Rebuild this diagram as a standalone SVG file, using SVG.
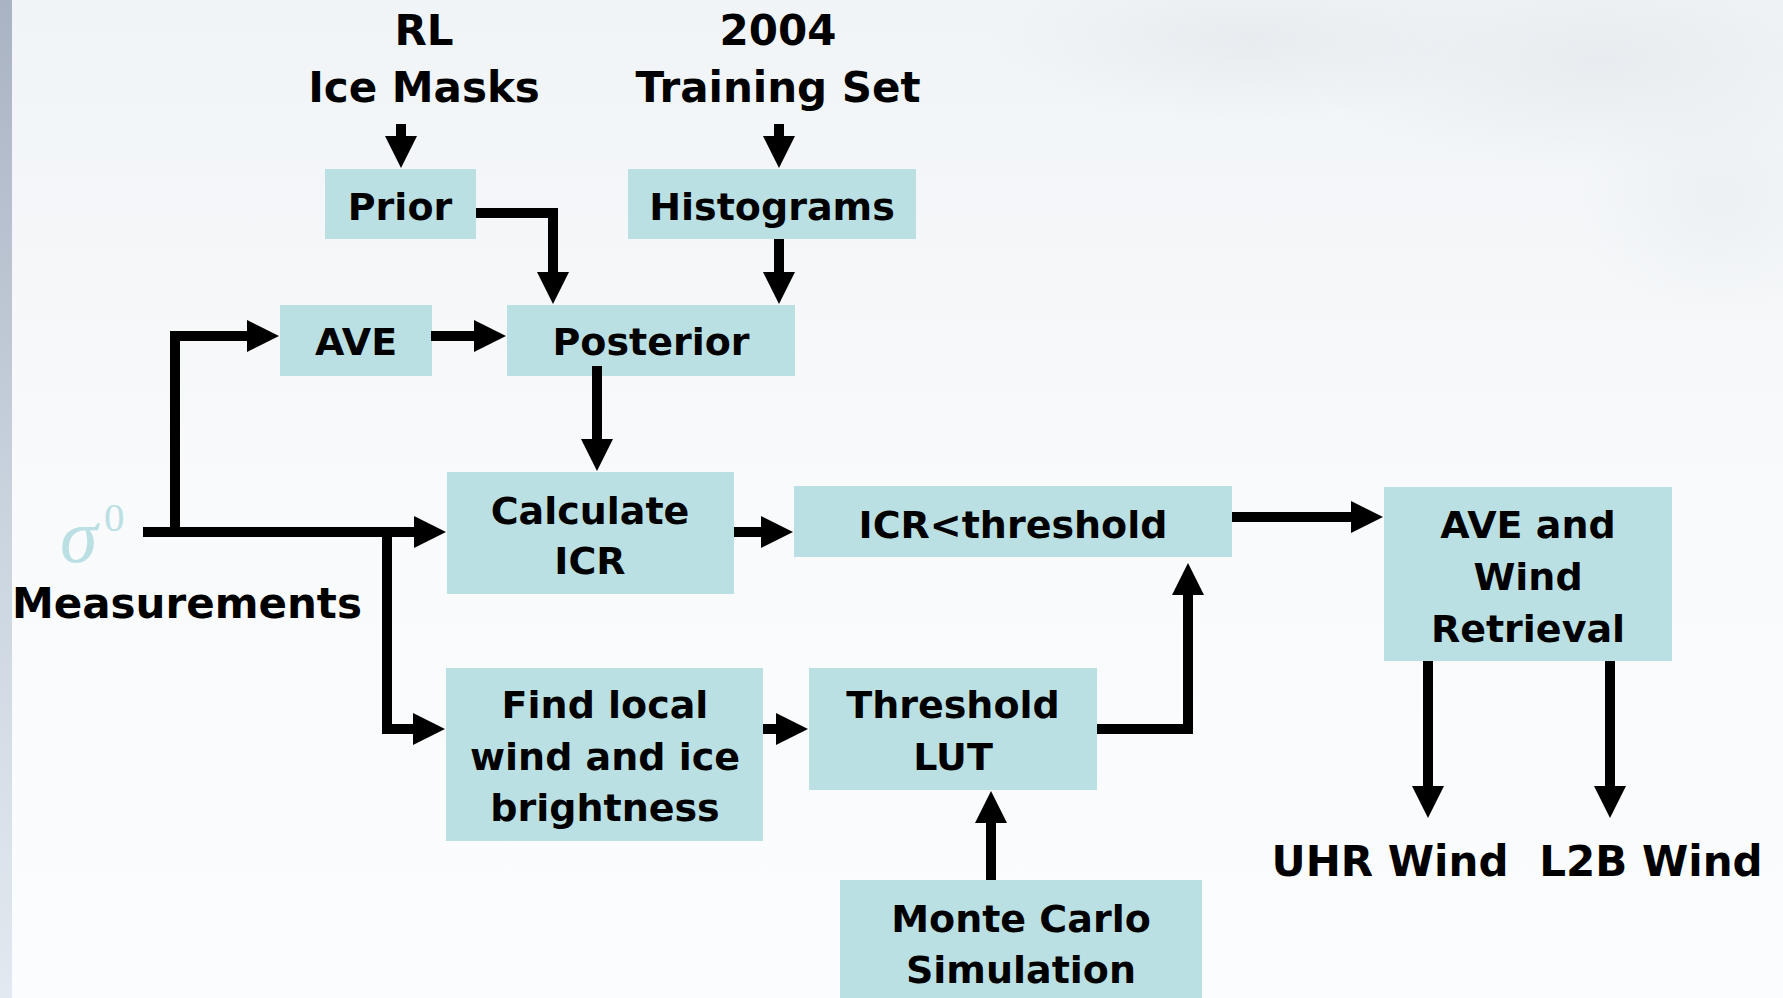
<svg xmlns="http://www.w3.org/2000/svg" width="1783" height="998" viewBox="0 0 1783 998">
<defs>
<linearGradient id="bg" x1="0" y1="0" x2="0" y2="1">
<stop offset="0" stop-color="#f1f4f7"/>
<stop offset="0.5" stop-color="#f8fafb"/>
<stop offset="1" stop-color="#fbfcfd"/>
</linearGradient>
<linearGradient id="strip" x1="0" y1="0" x2="0" y2="1">
<stop offset="0" stop-color="#a9b3c3"/>
<stop offset="0.5" stop-color="#c9d3de"/>
<stop offset="1" stop-color="#e2e9f0"/>
</linearGradient>
<radialGradient id="cloud" cx="0.5" cy="0.5" r="0.5">
<stop offset="0" stop-color="#e6ebef" stop-opacity="0.9"/>
<stop offset="1" stop-color="#e6ebef" stop-opacity="0"/>
</radialGradient>
<marker id="ah" markerUnits="userSpaceOnUse" markerWidth="33" markerHeight="32" refX="1" refY="16" orient="auto">
<path d="M0,0 L32,16 L0,32 Z" fill="#000"/>
</marker>
</defs>
<style>
.box{fill:#bbe0e4}
.t{font-family:"DejaVu Sans","Liberation Sans",sans-serif;font-weight:bold;fill:#000;text-anchor:middle}
.nt{font-size:38px}
.lt{font-size:42px}
.c{fill:none;stroke:#000;stroke-width:10;stroke-linejoin:miter;stroke-linecap:butt;marker-end:url(#ah)}
</style>
<rect x="0" y="0" width="1783" height="998" fill="url(#bg)"/>
<ellipse cx="1600" cy="60" rx="300" ry="110" fill="url(#cloud)"/>
<ellipse cx="1250" cy="40" rx="260" ry="80" fill="url(#cloud)"/>
<ellipse cx="1720" cy="200" rx="140" ry="120" fill="url(#cloud)" opacity="0.6"/>
<rect x="0" y="0" width="12" height="998" fill="url(#strip)"/>

<g id="labels">
<text class="t lt" x="424" y="45">RL</text>
<text class="t lt" x="424" y="102">Ice Masks</text>
<text class="t lt" x="778" y="45">2004</text>
<text class="t lt" x="778" y="102">Training Set</text>
<text class="t lt" x="12" y="618" style="text-anchor:start">Measurements</text>
<text class="t lt" x="1390" y="876">UHR Wind</text>
<text class="t lt" x="1651" y="876">L2B Wind</text>
<text x="60" y="562" font-family="Liberation Serif, serif" font-style="italic" font-size="76" fill="#bbe0e4">σ</text>
<text x="104" y="531" font-family="Liberation Serif, serif" font-size="41" fill="#bbe0e4">0</text>
</g>

<g id="prior"><rect class="box" x="325" y="169" width="151" height="70"/><text class="t nt" x="400" y="220">Prior</text></g>
<g id="histograms"><rect class="box" x="628" y="169" width="288" height="70"/><text class="t nt" x="772" y="220">Histograms</text></g>
<g id="ave"><rect class="box" x="280" y="305" width="152" height="71"/><text class="t nt" x="356" y="355">AVE</text></g>
<g id="posterior"><rect class="box" x="507" y="305" width="288" height="71"/><text class="t nt" x="651" y="355">Posterior</text></g>
<g id="calcicr"><rect class="box" x="447" y="472" width="287" height="122"/><text class="t nt" x="590" y="524">Calculate</text><text class="t nt" x="590" y="574">ICR</text></g>
<g id="icrthr"><rect class="box" x="794" y="486" width="438" height="71"/><text class="t nt" x="1013" y="538">ICR&lt;threshold</text></g>
<g id="avewind"><rect class="box" x="1384" y="487" width="288" height="174"/><text class="t nt" x="1528" y="538">AVE and</text><text class="t nt" x="1528" y="590">Wind</text><text class="t nt" x="1528" y="642">Retrieval</text></g>
<g id="findlocal"><rect class="box" x="446" y="668" width="317" height="173"/><text class="t nt" x="605" y="718">Find local</text><text class="t nt" x="605" y="770">wind and ice</text><text class="t nt" x="605" y="821">brightness</text></g>
<g id="thrlut"><rect class="box" x="809" y="668" width="288" height="122"/><text class="t nt" x="953" y="718">Threshold</text><text class="t nt" x="953" y="770">LUT</text></g>
<g id="montecarlo"><rect class="box" x="840" y="880" width="362" height="118"/><text class="t nt" x="1021" y="932">Monte Carlo</text><text class="t nt" x="1021" y="983">Simulation</text></g>

<g id="connectors">
<path class="c" d="M401,124 V137"/>
<path class="c" d="M779,124 V137"/>
<path class="c" d="M476,213 H553 V273"/>
<path class="c" d="M779,239 V273"/>
<path class="c" d="M143,532 H415"/>
<path class="c" d="M175,537 V336 H248"/>
<path class="c" d="M431,336 H475"/>
<path class="c" d="M597,366 V440"/>
<path class="c" d="M387,532 V729 H414"/>
<path class="c" d="M734,532 H762"/>
<path class="c" d="M1232,517 H1352"/>
<path class="c" d="M763,729 H777"/>
<path class="c" d="M1097,729 H1188 V594"/>
<path class="c" d="M991,880 V822"/>
<path class="c" d="M1428,661 V787"/>
<path class="c" d="M1610,661 V787"/>
</g>
</svg>
